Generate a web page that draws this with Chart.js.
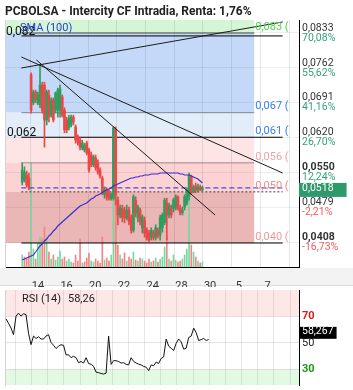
<!DOCTYPE html>
<html>
<head>
<meta charset="utf-8">
<script src="https://cdn.jsdelivr.net/npm/chart.js@4.4.1/dist/chart.umd.min.js"></script>
<style>
  html, body { margin: 0; padding: 0; background: #fff; }
  #wrap { position: relative; width: 353px; height: 390px; overflow: hidden; }
  canvas { position: absolute; left: 0; }
</style>
</head>
<body>
<div id="wrap">
  <canvas id="main" width="353" height="287" style="top:0"></canvas>
  <canvas id="rsi" width="353" height="104" style="top:286px"></canvas>
</div>
<script>
const titleText = 'PCBOLSA - Intercity CF Intradia, Renta: 1,76%';

// x axis in trading days, bars every ~1/6.5 day
const xMin = 0.347, xMax = 18.557;
const candleStart = 0.409, candleStep = 0.155;
const xTickPos = [1.5, 3.5, 5.5, 7.5, 9.5, 11.5, 13.5, 15.5, 17.5];
const xLabels = ['14', '16', '20', '22', '24', '28', '30', '5', '7'];
const mainGridDays = [2, 4, 6, 8, 10, 12, 14, 16, 18];
const rsiGridDays = [1, 2, 3, 4, 5, 6, 7, 8, 9, 10, 11, 12, 13, 14, 15, 16, 17, 18];

// price axis
const yMin = 0.03572, yMax = 0.08594;
const priceTicks = [0.0833, 0.0762, 0.0691, 0.0620, 0.0550, 0.0479, 0.0408];
const priceLabels = ['0,0833', '0,0762', '0,0691', '0,0620', '0,0550', '0,0479', '0,0408'];
const pctLabels = ['70,08%', '55,62%', '41,16%', '26,70%', '12,24%', '-2,21%', '-16,73%'];
const boldPrice = [4, 6];
const lastPrice = 0.0518;
const lastLabel = '0,0518';

const opens = [
  .0530, .0534, .0544, .0538, .0748, .0691, .0713, .0691, .0687, .0727,
  .0727, .0656, .0707, .0666, .0697, .0676, .0676, .0676, .0703, .0676,
  .0656, .0640, .0646, .0662, .0642, .0622, .0615, .0599, .0595, .0609,
  .0595, .0585, .0565, .0579, .0569, .0554, .0538, .0504, .0514, .0508,
  .0497, .0497, .0636, .0493, .0463, .0477, .0473, .0457, .0473, .0459,
  .0432, .0493, .0457, .0473, .0437, .0453, .0432, .0426, .0418, .0428,
  .0418, .0432, .0422, .0437, .0447, .0487, .0463, .0479, .0477, .0477,
  .0500, .0477, .0467, .0479, .0487, .0500, .0540, .0510, .0522, .0514,
  .0520, .0514
];
const highs = [
  .0569, .0561, .0552, .0548, .0752, .0717, .0717, .0713, .0768, .0733,
  .0733, .0717, .0717, .0701, .0701, .0713, .0721, .0727, .0707, .0681,
  .0662, .0666, .0666, .0666, .0646, .0626, .0620, .0615, .0609, .0613,
  .0599, .0591, .0585, .0585, .0575, .0559, .0542, .0520, .0518, .0514,
  .0508, .0642, .0642, .0500, .0483, .0483, .0479, .0483, .0479, .0463,
  .0504, .0500, .0483, .0477, .0463, .0459, .0437, .0432, .0437, .0432,
  .0443, .0437, .0463, .0467, .0497, .0497, .0487, .0483, .0497, .0504,
  .0502, .0483, .0479, .0504, .0518, .0548, .0544, .0524, .0528, .0526,
  .0524, .0522
];
const lows = [
  .0524, .0530, .0520, .0514, .0670, .0687, .0691, .0687, .0681, .0670,
  .0601, .0646, .0652, .0662, .0652, .0670, .0662, .0662, .0662, .0630,
  .0630, .0636, .0642, .0646, .0609, .0605, .0595, .0595, .0591, .0585,
  .0550, .0561, .0561, .0554, .0546, .0538, .0504, .0497, .0493, .0493,
  .0493, .0493, .0483, .0443, .0457, .0449, .0447, .0453, .0443, .0426,
  .0428, .0459, .0449, .0443, .0426, .0418, .0412, .0408, .0412, .0412,
  .0412, .0416, .0412, .0428, .0443, .0412, .0457, .0457, .0469, .0473,
  .0473, .0463, .0463, .0473, .0483, .0493, .0504, .0508, .0508, .0510,
  .0512, .0512
];
const closes = [
  .0554, .0550, .0524, .0518, .0676, .0713, .0697, .0707, .0727, .0676,
  .0656, .0713, .0662, .0697, .0656, .0711, .0717, .0719, .0666, .0636,
  .0636, .0660, .0662, .0652, .0615, .0609, .0601, .0609, .0605, .0589,
  .0554, .0565, .0581, .0559, .0550, .0542, .0510, .0514, .0500, .0497,
  .0504, .0640, .0504, .0463, .0477, .0459, .0457, .0473, .0449, .0432,
  .0500, .0467, .0479, .0449, .0459, .0426, .0416, .0412, .0432, .0416,
  .0437, .0420, .0457, .0463, .0493, .0463, .0483, .0463, .0493, .0500,
  .0477, .0467, .0473, .0500, .0514, .0544, .0508, .0520, .0512, .0520,
  .0514, .0518
];
const volumes = [
  12, 10, 9, 15, 104, 18, 8, 24, 30, 28,
  40, 30, 15, 8, 12, 7, 10, 16, 8, 10,
  6, 8, 5, 4, 12, 6, 28, 4, 5, 9,
  14, 6, 5, 8, 6, 4, 30, 7, 9, 6,
  12, 67, 70, 22, 12, 8, 14, 6, 10, 8,
  15, 7, 6, 9, 8, 6, 4, 8, 5, 6,
  9, 5, 8, 10, 20, 30, 8, 6, 12, 7,
  5, 6, 8, 12, 18, 70, 22, 15, 10, 6,
  4, 5
];
const sma100 = [
  .03714, .03735, .03755, .03775, .03796, .03816, .03877, .03938, .03999, .04040,
  .04101, .04141, .04202, .04243, .04304, .04345, .04406, .04446, .04487, .04528,
  .04568, .04609, .04650, .04690, .04731, .04772, .04812, .04833, .04853, .04873,
  .04914, .04955, .04975, .05016, .05036, .05057, .05087, .05117, .05138, .05158,
  .05178, .05219, .05239, .05260, .05280, .05300, .05321, .05341, .05361, .05382,
  .05382, .05402, .05402, .05422, .05422, .05443, .05443, .05443, .05463, .05463,
  .05463, .05463, .05483, .05483, .05483, .05483, .05483, .05483, .05483, .05483,
  .05483, .05463, .05463, .05443, .05443, .05443, .05422, .05402, .05382, .05361,
  .05321, .05280
];
const rsi14 = [
  75.7, 72, 68, 62.4, 78, 80.5, 78, 80, 79.3, 63.6,
  54, 61.2, 59.2, 60.6, 58.7, 58.7, 61.2, 62.4, 55.8, 53.4,
  50.7, 52.7, 53.9, 53.4, 45.4, 45.4, 43, 44.2, 43, 38.8,
  39.8, 38.5, 43, 38.1, 37.4, 35.7, 30.8, 30.4, 29.7, 29.2,
  30, 61.2, 37.4, 40.5, 40.5, 39.8, 38.5, 38.8, 37.4, 36.9,
  43, 39.8, 38.5, 37.6, 36.9, 35.7, 35, 32.1, 36.9, 36.2,
  39.3, 38.1, 42.3, 43.7, 58.7, 52.7, 51, 49, 55.1, 58.7,
  56.3, 50.2, 51, 60, 61.2, 67.9, 64, 57.5, 58.2, 59.2,
  57.5, 58.27
];
const smaName = 'SMA (100)';

// fibonacci tool + drawn lines
const fibLevels = [0.0833, 0.0671, 0.0621, 0.0569, 0.0510, 0.0406];
const fibLabels = ['0,083 (', '0,067 (', '0,061 (', '0,056 (', '0,050 (', '0,040 ('];
const fibEnd = 16.575;
const topLine = 0.0827;
const leftNotes = ['0,082', '0,062'];
const trendLines = [
  [[0.347, 0.07618], [18.557, 0.08554]],
  [[0.347, 0.07842], [18.557, 0.05483]],
  [[1.400, 0.07781], [13.85, 0.04629]]
];

// RSI panel
const rsiMin = 18.36, rsiMax = 89.64;
const rsiTicks = [70, 50, 30];
const rsiTickColors = ['#e01818', '#222', '#1a961a'];
const rsiLast = 58.267;
const rsiLastLabel = '58,267';
const rsiName = 'RSI (14)';
const rsiValueText = '58,26';

// ---- styles
const upColor = '#2f9d5f', downColor = '#ee4646';
const volUp = '#7ad6a1', volDown = '#f58484';
const bandColors = ['#d5f6d5', '#c4d9f8', '#e3ecf9', '#fde5e5', '#fcd2d2', '#eab6b6'];
const fibLabelColors = ['#4fd04f', '#3a7fe6', '#3a7fe6', '#f3a2a2', '#f08a8a', '#f09a9a'];

Chart.defaults.font.family = 'Roboto, sans-serif';
Chart.defaults.color = '#333';

const t = opens.map((_, i) => candleStart + i * candleStep);
const candleColor = closes.map((c, i) => c >= opens[i] ? upColor : downColor);
const volColor = closes.map((c, i) => (i === 0 ? c >= opens[0] : c >= closes[i - 1]) ? volUp : volDown);

const hLines = [
  { v: fibLevels[0], to: fibEnd, color: '#4d4d4d' },
  { v: topLine, to: xMax, color: '#000' },
  { v: fibLevels[1], to: fibEnd, color: '#7d8799' },
  { v: fibLevels[2], to: xMax, color: '#000' },
  { v: fibLevels[3], to: fibEnd, color: '#a08484' },
  { v: fibLevels[4], to: xMax, color: '#4b3030', dash: [2, 2] },
  { v: lastPrice, to: xMax, color: '#2626e6', dash: [5, 3] },
  { v: fibLevels[5], to: xMax, color: '#000' }
];

function dayAxis(ticks, opts) {
  return Object.assign({
    type: 'linear', min: xMin, max: xMax,
    afterBuildTicks: s => { s.ticks = ticks.map(v => ({ value: v })); }
  }, opts);
}

// price ticks: each level twice (price line, percent line) + the last price box
const lastIdx = priceTicks.length * 2;
const mainBands = {
  id: 'mainBands',
  beforeDraw(chart) {
    const { ctx, chartArea: a, scales: { x, y } } = chart;
    ctx.save();
    ctx.fillStyle = '#f3f3f3';
    ctx.fillRect(0, a.bottom + 1, chart.width, chart.height - a.bottom - 2);
    ctx.fillStyle = '#dcdcdc';
    ctx.fillRect(0, chart.height - 2, chart.width, 1);
    const xr = x.getPixelForValue(fibEnd);
    const edges = [yMax, ...fibLevels];
    bandColors.forEach((c, i) => {
      const top = y.getPixelForValue(edges[i]);
      const bot = y.getPixelForValue(edges[i + 1]);
      ctx.fillStyle = c;
      ctx.fillRect(a.left, top, xr - a.left, bot - top);
    });
    ctx.restore();
  }
};

const mainNotes = {
  id: 'mainNotes',
  afterDatasetsDraw(chart) {
    const { ctx, chartArea: a, scales: { x, y } } = chart;
    ctx.save();
    ctx.beginPath();
    ctx.rect(a.left, a.top, a.right - a.left, a.bottom - a.top);
    ctx.clip();
    ctx.textAlign = 'left';
    ctx.textBaseline = 'middle';
    ctx.font = '11px Roboto';
    const xr = x.getPixelForValue(fibEnd) + 1;
    fibLevels.forEach((v, i) => {
      ctx.fillStyle = fibLabelColors[i];
      ctx.fillText(fibLabels[i], xr, y.getPixelForValue(v) - 6);
    });
    ctx.font = '12px Roboto';
    ctx.fillStyle = '#111';
    ctx.textBaseline = 'alphabetic';
    ctx.fillText(leftNotes[0], a.left + 1, y.getPixelForValue(topLine) - 0.5);
    ctx.fillText(leftNotes[1], a.left + 2, y.getPixelForValue(fibLevels[2]) - 1.5);
    ctx.font = '11px Roboto';
    ctx.fillStyle = '#2b3bdc';
    ctx.textBaseline = 'middle';
    ctx.fillText(smaName, a.left + 15, y.getPixelForValue(fibLevels[0]) - 5);
    ctx.restore();
  }
};

const datasets = [
  {
    type: 'bar', label: 'vol', yAxisID: 'yv', order: 6, grouped: false,
    data: t.map((x, i) => ({ x, y: volumes[i] })),
    backgroundColor: volColor, barThickness: 1
  },
  ...hLines.map(l => ({
    type: 'line', order: 5, yAxisID: 'y',
    data: [{ x: xMin, y: l.v }, { x: l.to, y: l.v }],
    borderColor: l.color, borderWidth: 1, borderDash: l.dash || [], pointRadius: 0
  })),
  {
    type: 'bar', label: 'wick', yAxisID: 'y', order: 4, grouped: false,
    data: t.map((x, i) => ({ x, y: [lows[i], highs[i]] })),
    backgroundColor: candleColor, barThickness: 1
  },
  {
    type: 'bar', label: 'body', yAxisID: 'y', order: 3, grouped: false,
    data: t.map((x, i) => ({ x, y: [opens[i], closes[i]] })),
    backgroundColor: candleColor, barThickness: 2, minBarLength: 1
  },
  {
    type: 'line', label: smaName, yAxisID: 'y', order: 2,
    data: t.map((x, i) => ({ x, y: sma100[i] })),
    borderColor: '#3a2fd8', borderWidth: 1.2, pointRadius: 0
  },
  ...trendLines.map(p => ({
    type: 'line', order: 1, yAxisID: 'y',
    data: p.map(q => ({ x: q[0], y: q[1] })),
    borderColor: '#1c1c1c', borderWidth: 1, pointRadius: 0
  }))
];

new Chart(document.getElementById('main'), {
  type: 'bar',
  data: { datasets },
  options: {
    responsive: false, animation: false, events: [],
    layout: { padding: { left: 5, top: 0, right: 0, bottom: 0 } },
    plugins: {
      legend: { display: false },
      tooltip: { enabled: false },
      title: {
        display: true, text: titleText, align: 'start', color: '#222',
        font: { size: 12, weight: 'bold' }, padding: { top: 5, bottom: 0.6 }
      }
    },
    scales: {
      x: dayAxis(xTickPos, {
        position: 'bottom', weight: 1,
        ticks: { callback: (v, i) => xLabels[i], color: '#333', font: { size: 11 }, maxRotation: 0, autoSkip: false, padding: 5 },
        grid: { display: false },
        border: { color: '#000' },
        afterFit: s => { s.height = 20; }
      }),
      xg: dayAxis(mainGridDays, {
        position: 'bottom', weight: 0,
        ticks: { display: false },
        grid: { color: 'rgba(60,70,90,0.13)', drawTicks: false },
        border: { display: false },
        afterFit: s => { s.height = 0; }
      }),
      yl: {
        position: 'left', ticks: { display: false }, grid: { display: false },
        border: { color: '#d4d4d4' }, afterFit: s => { s.width = 0; }
      },
      yv: { display: false, min: 0, max: 247 },
      y: {
        position: 'right', min: yMin, max: yMax,
        afterBuildTicks: s => {
          s.ticks = priceTicks.flatMap(v => [{ value: v }, { value: v }]).concat([{ value: lastPrice }]);
        },
        ticks: {
          autoSkip: false, padding: 3,
          callback: (v, i) => i === lastIdx ? lastLabel
            : (i % 2 ? ['', pctLabels[i >> 1]] : [priceLabels[i >> 1], '']),
          color: c => c.index === lastIdx ? '#fff'
            : c.index % 2 ? (pctLabels[c.index >> 1][0] === '-' ? '#f25a5a' : '#35a278') : '#333',
          font: c => ({
            size: 10.5, lineHeight: '10px',
            weight: c.index % 2 === 0 && boldPrice.includes(c.index >> 1) ? 'bold' : 'normal'
          }),
          showLabelBackdrop: c => c.index === lastIdx,
          backdropColor: '#2e9a6c',
          backdropPadding: { left: 3, right: 13, top: 0, bottom: 4 }
        },
        grid: {
          color: c => c.index % 2 === 0 && c.index !== lastIdx ? 'rgba(60,70,90,0.09)' : 'rgba(0,0,0,0)',
          drawTicks: false
        },
        border: { color: '#000' },
        afterFit: s => { s.width = 54; }
      }
    }
  },
  plugins: [mainBands, mainNotes]
});

// ---- RSI panel
const rsiLastIdx = rsiTicks.length;
const rsiBands = {
  id: 'rsiBands',
  beforeDraw(chart) {
    const { ctx, chartArea: a, scales: { y } } = chart;
    ctx.save();
    const y70 = y.getPixelForValue(70), y30 = y.getPixelForValue(30);
    ctx.fillStyle = '#fde7e7';
    ctx.fillRect(a.left, a.top, a.right - a.left, y70 - a.top);
    ctx.fillStyle = '#e2fae2';
    ctx.fillRect(a.left, y30, a.right - a.left, a.bottom - y30);
    ctx.restore();
  },
  afterDraw(chart) {
    const { ctx, chartArea: a } = chart;
    ctx.save();
    ctx.font = '11px Roboto';
    ctx.fillStyle = '#222';
    ctx.textBaseline = 'middle';
    ctx.fillText(rsiName, a.left + 17, a.top + 9);
    ctx.fillText(rsiValueText, a.left + 63, a.top + 9);
    ctx.restore();
  }
};

new Chart(document.getElementById('rsi'), {
  type: 'line',
  data: {
    datasets: [{
      data: t.map((x, i) => ({ x, y: rsi14[i] })),
      borderColor: '#111', borderWidth: 1, pointRadius: 0
    }]
  },
  options: {
    responsive: false, animation: false, events: [],
    layout: { padding: { left: 5, top: 1, right: 0, bottom: 5 } },
    plugins: { legend: { display: false }, tooltip: { enabled: false } },
    scales: {
      x: dayAxis(rsiGridDays, {
        ticks: { display: false },
        grid: { color: 'rgba(0,0,0,0.09)', drawTicks: false },
        border: { display: false },
        afterFit: s => { s.height = 0; }
      }),
      yl: {
        position: 'left', ticks: { display: false }, grid: { display: false },
        border: { color: '#d4d4d4' }, afterFit: s => { s.width = 0; }
      },
      y: {
        position: 'right', min: rsiMin, max: rsiMax,
        afterBuildTicks: s => { s.ticks = rsiTicks.concat([rsiLast]).map(v => ({ value: v })); },
        ticks: {
          autoSkip: false, padding: 3,
          callback: (v, i) => i === rsiLastIdx ? rsiLastLabel : String(rsiTicks[i]),
          color: c => c.index === rsiLastIdx ? '#fff' : rsiTickColors[c.index],
          // tiny line height keeps the axis from padding the plot area
          font: c => ({
            size: c.index === rsiLastIdx ? 10.5 : 11, lineHeight: '2px',
            weight: c.index === 0 || c.index === 2 ? 'bold' : 'normal'
          }),
          showLabelBackdrop: c => c.index === rsiLastIdx,
          backdropColor: '#000',
          backdropPadding: { left: 3, right: 3, top: 4, bottom: 6 }
        },
        grid: { color: c => c.index === rsiLastIdx ? 'rgba(0,0,0,0)' : 'rgba(0,0,0,0.1)', drawTicks: false },
        border: { color: '#000' },
        afterFit: s => { s.width = 54; }
      }
    }
  },
  plugins: [rsiBands]
});
</script>
</body>
</html>
